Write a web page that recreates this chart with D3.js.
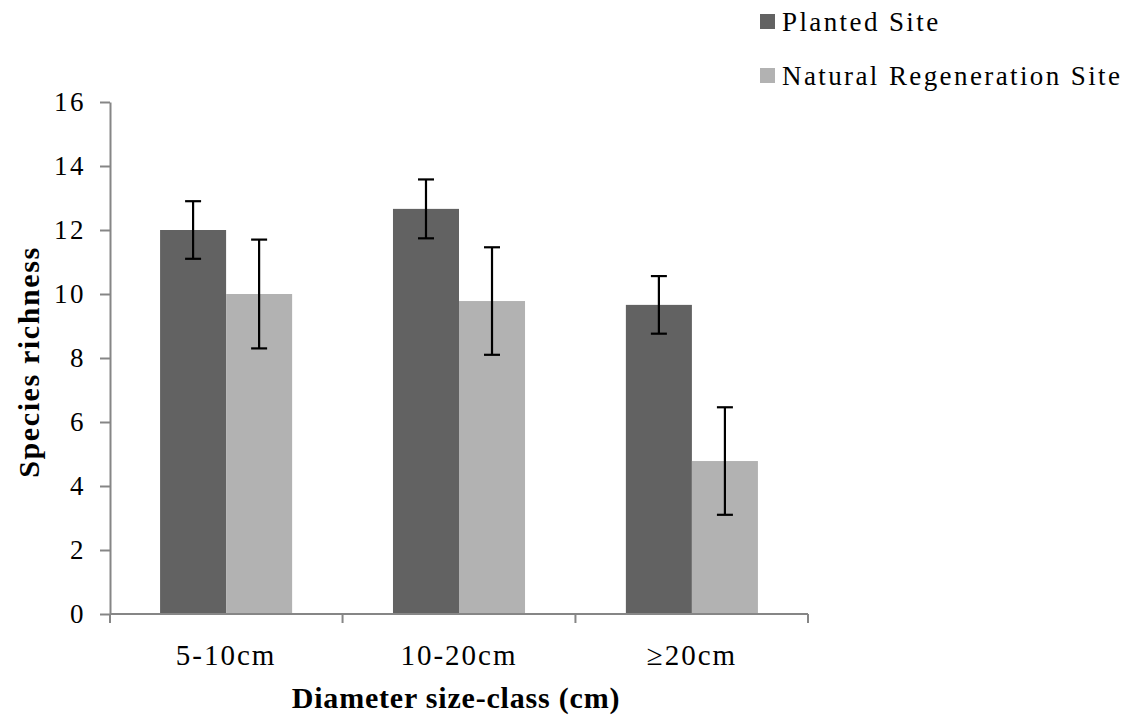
<!DOCTYPE html>
<html>
  <head>
    <meta charset="utf-8">
    <title>species richness</title>
    <script src="https://d3js.org/d3.v7.min.js"></script>
    <style>
      body { margin: 0; background: #fff; }
    </style>
  </head>
  <body>
    <script type="text/javascript">

      //Data
      var categories = ["5-10cm", "10-20cm", "\u226520cm"];
      var seriesNames = ["Planted Site", "Natural Regeneration Site"];
      var planted = [12.0, 12.66, 9.66];
      var plantedErr = [0.9, 0.92, 0.9];
      var natural = [10.0, 9.78, 4.78];
      var naturalErr = [1.7, 1.68, 1.68];
      var yTicks = [0, 2, 4, 6, 8, 10, 12, 14, 16];
      var colors = ["#626262", "#b2b2b2"];

      var serif = "'Liberation Serif'";

      //Width and height
      var w = 1130;
      var h = 719;

      var svg = d3.select("body")
                  .append("svg")
                  .attr("width", w)
                  .attr("height", h);

      //Scales
      var xScale = d3.scaleBand()
                     .domain(categories)
                     .range([110, 808])
                     .paddingInner(0.433)
                     .paddingOuter(0.215);

      var subScale = d3.scaleBand()
                       .domain(seriesNames)
                       .range([0, xScale.bandwidth()]);

      var yScale = d3.scaleLinear()
                     .domain([0, 16])
                     .range([614, 102]);

      var color = d3.scaleOrdinal()
                    .domain(seriesNames)
                    .range(colors);

      //Build rows for bars
      var rows = [];
      categories.forEach(function(c, i) {
        rows.push({ cat: c, series: seriesNames[0], value: planted[i], err: plantedErr[i] });
        rows.push({ cat: c, series: seriesNames[1], value: natural[i], err: naturalErr[i] });
      });

      //Bars
      svg.selectAll("rect.bar")
         .data(rows)
         .enter()
         .append("rect")
         .attr("class", "bar")
         .attr("x", function(d) { return xScale(d.cat) + subScale(d.series); })
         .attr("y", function(d) { return yScale(d.value); })
         .attr("width", subScale.bandwidth())
         .attr("height", function(d) { return yScale(0) - yScale(d.value); })
         .attr("fill", function(d) { return color(d.series); });

      //Y axis (line and ticks from d3, labels drawn straight on the svg)
      var yAxis = svg.append("g")
                     .attr("transform", "translate(110,0)")
                     .call(d3.axisLeft(yScale)
                             .tickValues(yTicks)
                             .tickSize(10)
                             .tickFormat("")
                             .tickSizeOuter(0));
      yAxis.selectAll("path, line").attr("stroke", "#868686").attr("stroke-width", 2);
      yAxis.selectAll("text").remove();

      svg.selectAll("text.ylab")
         .data(yTicks)
         .enter()
         .append("text")
         .attr("class", "ylab")
         .attr("x", 86)
         .attr("y", function(d) { return yScale(d) + 9; })
         .attr("text-anchor", "end")
         .style("font-family", serif)
         .style("font-size", "27px")
         .style("letter-spacing", "2.5px")
         .text(function(d) { return d; });

      //X axis line and boundary ticks
      var xr = xScale.range();
      svg.append("line")
         .attr("x1", xr[0]).attr("x2", xr[1])
         .attr("y1", yScale(0)).attr("y2", yScale(0))
         .attr("stroke", "#868686").attr("stroke-width", 2);
      var step = xScale.step();
      var bounds = [xr[0]];
      categories.forEach(function(c) {
        bounds.push(xScale(c) + xScale.bandwidth() + step * xScale.paddingInner() / 2);
      });
      bounds[bounds.length - 1] = xr[1];
      svg.selectAll("line.xtick")
         .data(bounds)
         .enter()
         .append("line")
         .attr("class", "xtick")
         .attr("x1", function(d) { return d; })
         .attr("x2", function(d) { return d; })
         .attr("y1", yScale(0))
         .attr("y2", yScale(0) + 9)
         .attr("stroke", "#868686").attr("stroke-width", 2);

      //X labels
      svg.selectAll("text.xlab")
         .data(categories)
         .enter()
         .append("text")
         .attr("class", "xlab")
         .attr("x", function(d) { return xScale(d) + xScale.bandwidth() / 2; })
         .attr("y", 665)
         .attr("text-anchor", "middle")
         .style("font-family", serif)
         .style("font-size", "29px")
         .style("letter-spacing", "2px")
         .text(function(d) { return d; });

      //Error bars
      var cx = function(d) { return xScale(d.cat) + subScale(d.series) + subScale.bandwidth() / 2; };
      svg.selectAll("line.errv")
         .data(rows)
         .enter()
         .append("line")
         .attr("class", "errv")
         .attr("x1", cx).attr("x2", cx)
         .attr("y1", function(d) { return yScale(d.value + d.err); })
         .attr("y2", function(d) { return yScale(d.value - d.err); })
         .attr("stroke", "#000").attr("stroke-width", 2.2);
      svg.selectAll("line.errt")
         .data(rows)
         .enter()
         .append("line")
         .attr("class", "errt")
         .attr("x1", function(d) { return cx(d) - 8; })
         .attr("x2", function(d) { return cx(d) + 8; })
         .attr("y1", function(d) { return yScale(d.value + d.err); })
         .attr("y2", function(d) { return yScale(d.value + d.err); })
         .attr("stroke", "#000").attr("stroke-width", 2.2);
      svg.selectAll("line.errb")
         .data(rows)
         .enter()
         .append("line")
         .attr("class", "errb")
         .attr("x1", function(d) { return cx(d) - 8; })
         .attr("x2", function(d) { return cx(d) + 8; })
         .attr("y1", function(d) { return yScale(d.value - d.err); })
         .attr("y2", function(d) { return yScale(d.value - d.err); })
         .attr("stroke", "#000").attr("stroke-width", 2.2);

      //Axis titles
      svg.append("text")
         .attr("x", 456)
         .attr("y", 708)
         .attr("text-anchor", "middle")
         .style("font-family", serif)
         .style("font-size", "30px")
         .style("font-weight", "bold")
         .style("letter-spacing", "0.8px")
         .text("Diameter size-class (cm)");

      svg.append("text")
         .attr("transform", "translate(39,362) rotate(-90)")
         .attr("text-anchor", "middle")
         .style("font-family", serif)
         .style("font-size", "30px")
         .style("font-weight", "bold")
         .style("letter-spacing", "1.6px")
         .text("Species richness");

      //Legend
      svg.selectAll("rect.legend")
         .data(seriesNames)
         .enter()
         .append("rect")
         .attr("class", "legend")
         .attr("x", 760)
         .attr("y", function(d, i) { return 14 + i * 54; })
         .attr("width", 15)
         .attr("height", 15)
         .attr("fill", function(d) { return color(d); });
      svg.selectAll("text.legend")
         .data(seriesNames)
         .enter()
         .append("text")
         .attr("class", "legend")
         .attr("x", 782)
         .attr("y", function(d, i) { return 31 + i * 54; })
         .style("font-family", serif)
         .style("font-size", "27px")
         .style("letter-spacing", "2.4px")
         .text(function(d) { return d; });

    </script>
  </body>
</html>
